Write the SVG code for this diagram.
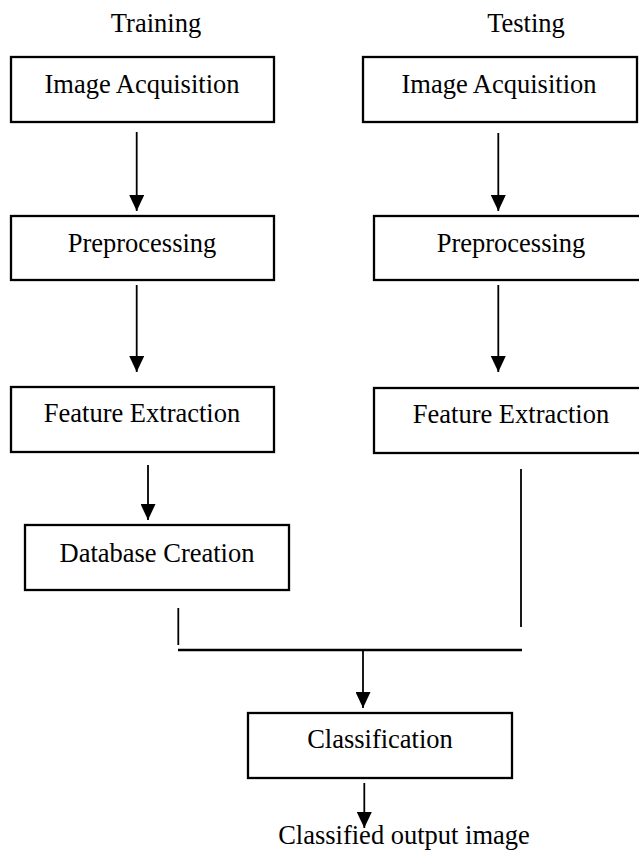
<svg xmlns="http://www.w3.org/2000/svg" width="639" height="858" viewBox="0 0 639 858">
<defs>
<style>
.box{fill:#fff;stroke:#000;stroke-width:2.3}
.t{font-family:"Liberation Serif","Times New Roman",serif;font-size:26.5px;fill:#000;text-anchor:middle}
.c{stroke:#000;stroke-width:1.8;fill:none}
.h{stroke:#000;stroke-width:2.4;fill:none}
</style>
<marker id="ah2" markerUnits="userSpaceOnUse" markerWidth="16" markerHeight="15" refX="16" refY="7.5" orient="auto" viewBox="0 0 16 15">
<path d="M0,0 L16,7.5 L0,15 Z" fill="#000"/>
</marker>
</defs>
<rect width="639" height="858" fill="#fff"/>
<text class="t" x="156" y="32">Training</text>
<text class="t" x="526" y="32">Testing</text>
<g id="train_acq"><rect class="box" x="11" y="57" width="263" height="65"/><text class="t" x="142" y="93">Image Acquisition</text></g>
<g id="train_pre"><rect class="box" x="11" y="216" width="263" height="64"/><text class="t" x="142" y="252">Preprocessing</text></g>
<g id="train_feat"><rect class="box" x="11" y="387" width="263" height="65"/><text class="t" x="142" y="422">Feature Extraction</text></g>
<g id="db"><rect class="box" x="25" y="525" width="264" height="65"/><text class="t" x="157" y="562">Database Creation</text></g>
<g id="test_acq"><rect class="box" x="363" y="57" width="274" height="65"/><text class="t" x="499" y="93">Image Acquisition</text></g>
<g id="test_pre"><rect class="box" x="374" y="216" width="274" height="64"/><text class="t" x="511" y="252">Preprocessing</text></g>
<g id="test_feat"><rect class="box" x="374" y="388" width="274" height="65"/><text class="t" x="511" y="423">Feature Extraction</text></g>
<g id="classify"><rect class="box" x="248" y="713" width="264" height="65"/><text class="t" x="380" y="748">Classification</text></g>
<g id="output"><text class="t" x="404" y="844">Classified output image</text></g>
<g id="connectors">
<line class="c" x1="136.7" y1="132" x2="136.7" y2="211" marker-end="url(#ah2)"/>
<line class="c" x1="136.7" y1="285" x2="136.7" y2="372" marker-end="url(#ah2)"/>
<line class="c" x1="148" y1="465" x2="148" y2="520" marker-end="url(#ah2)"/>
<line class="c" x1="498.3" y1="133" x2="498.3" y2="211" marker-end="url(#ah2)"/>
<line class="c" x1="498.3" y1="285" x2="498.3" y2="372" marker-end="url(#ah2)"/>
<line class="c" x1="521" y1="469" x2="521" y2="627"/>
<line class="c" x1="178.3" y1="608" x2="178.3" y2="645"/>
<line class="h" x1="178" y1="650" x2="522" y2="650"/>
<line class="c" x1="363" y1="650" x2="363" y2="708" marker-end="url(#ah2)"/>
<line class="c" x1="364.3" y1="783" x2="364.3" y2="828" marker-end="url(#ah2)"/>
</g>
</svg>
